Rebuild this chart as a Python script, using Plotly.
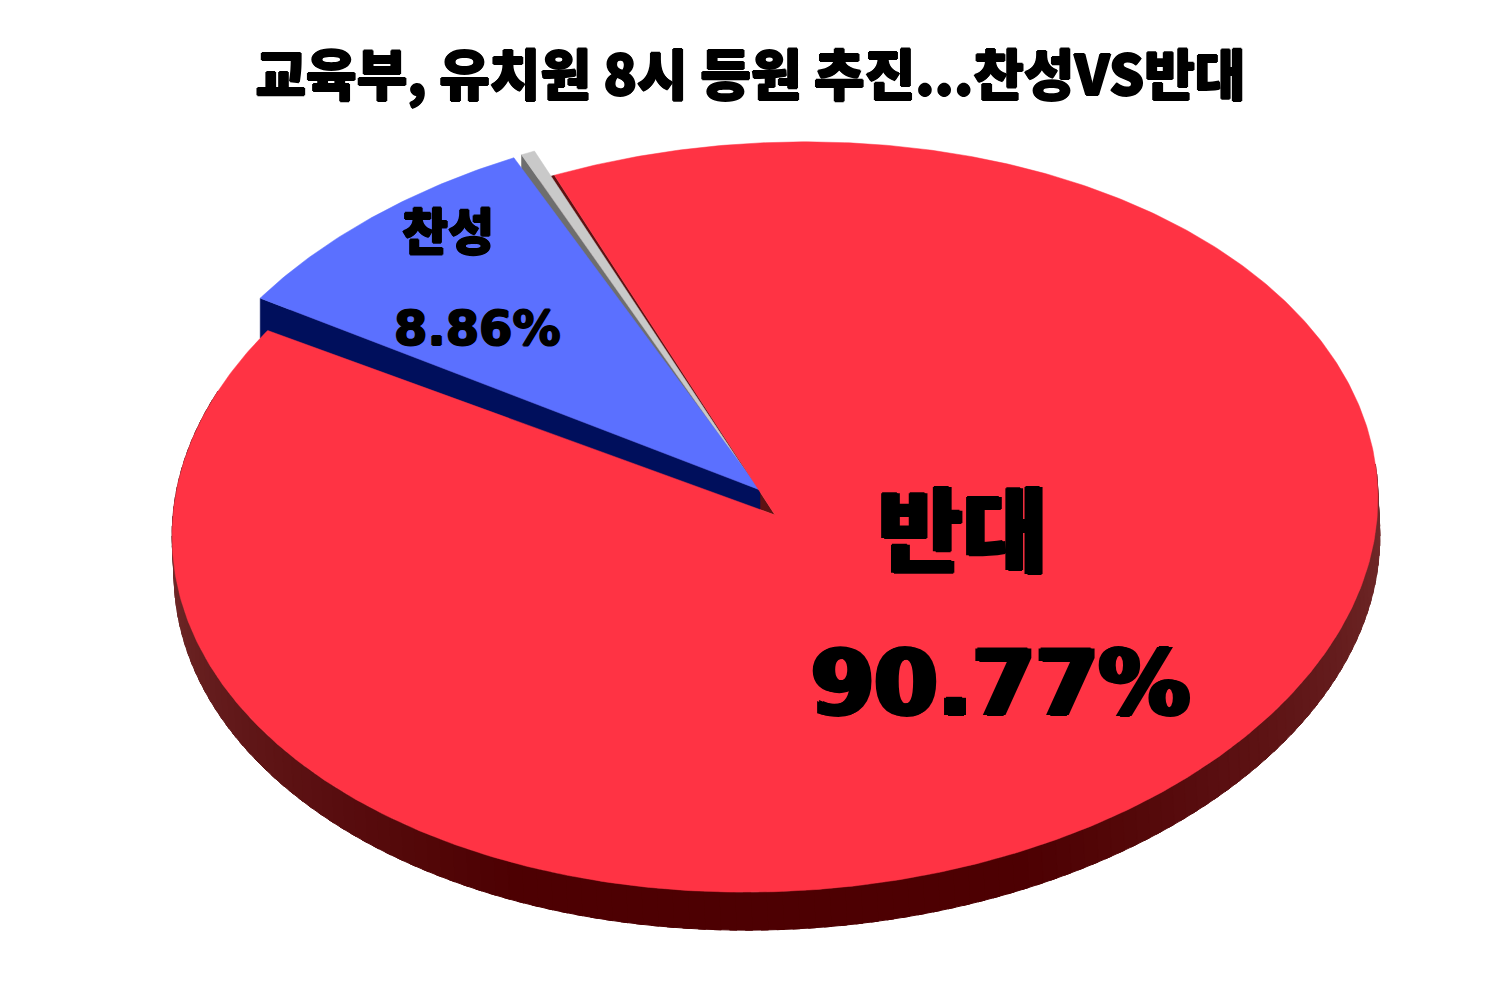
import numpy as np
import plotly.graph_objects as go

labels = ['찬성', '기타', '반대']
values = [8.86, 0.37, 90.77]
value_text = ['8.86%', '', '90.77%']
face_colors = ['#5B70FF', '#C9C9C9', '#FF3344']
wall_colors = ['#000F5C', '#6E6E6E', '#5E1212']
title_text = '교육부, 유치원 8시 등원 추진...찬성VS반대'

# pie geometry in page pixels
cx, cy = 775, 517
apex_lift = 2
rx, ry = 603, 375
tilt = np.radians(1.3)
depth_x, depth_y = 2, 38
start_angle = 303.2
# the original is drawn in perspective, so the slices do not meet exactly on the ellipse
gaps = [1.0, 0.3, -1.3]
offsets = [(-15, -25), (-17, -25), (0, 0)]
depths = [40, 30, 38]

WALL_SIDE = np.array([112, 42, 42])
WALL_DARK = np.array([77, 0, 2])

HEAVY = '1px 0 0 #000,-1px 0 0 #000,0 1px 0 #000,0 -1px 0 #000'
WIDE = '2px 0 0 #000,-2px 0 0 #000,1px 1px 0 #000,-1px -1px 0 #000'
WIDER = '3px 0 0 #000,-3px 0 0 #000,1px 1px 0 #000,-1px -1px 0 #000'


def ellipse_point(theta, ox=0, oy=0):
    t = np.radians(theta)
    px = rx * np.sin(t)
    py = ry * np.cos(t)
    x = cx + px * np.cos(tilt) + py * np.sin(tilt)
    y = cy - py * np.cos(tilt) + px * -np.sin(tilt)
    return x + ox, y + oy


def wedge(a0, a1, ox=0, oy=0):
    angles = np.linspace(a0, a1, max(3, int(abs(a1 - a0) * 2)))
    xs, ys = ellipse_point(angles, ox, oy)
    apex_x, apex_y = cx + ox, cy - apex_lift + oy
    return [apex_x, *xs, apex_x], [apex_y, *ys, apex_y]


def add_poly(fig, xs, ys, color, name=None):
    fig.add_trace(go.Scatter(
        x=xs, y=ys, mode='lines', fill='toself', fillcolor=color,
        line=dict(color=color, width=0.5),
        hoverinfo='text' if name else 'skip', text=name, showlegend=False
    ))


# slice angles, clockwise from the top
spans = [v / sum(values) * 360 for v in values]
starts, ends = [], []
pos = start_angle
for span, gap in zip(spans, gaps):
    starts.append(pos)
    ends.append(pos + span)
    pos += span + gap
ends[2] = start_angle + 360 + gaps[2]

fig = go.Figure()

# outer wall of the big slice, split in strips for the shading
edges = np.arange(84, 292, 1.5)
for a0, a1 in zip(edges[:-1], edges[1:]):
    mid = (a0 + a1) / 2
    t = min(1, max(0, (abs(mid - 180) - 25) / 65))
    shade = WALL_DARK + (WALL_SIDE - WALL_DARK) * t
    color = 'rgb({:.0f},{:.0f},{:.0f})'.format(*shade)
    xs, ys = ellipse_point(np.linspace(a0, a1 + 0.7, 4))
    fig.add_trace(go.Scatter(
        x=[*xs, *(xs[::-1] + depth_x), xs[0]], y=[*ys, *(ys[::-1] + depth_y), ys[0]],
        mode='lines', fill='toself', fillcolor=color, line=dict(color=color, width=1),
        hoverinfo='skip', showlegend=False
    ))

# hollow left by the pulled out slices
xs, ys = wedge(ends[2] - 360, starts[2])
add_poly(fig, xs, ys, wall_colors[2])

# pulled out slices, the thin one goes first so the blue one overlaps it
for i in [1, 0]:
    ox, oy = offsets[i]
    xs, ys = wedge(starts[i], ends[i], ox, oy)
    ax, ay = xs[0], ys[0]
    bx, by = xs[1], ys[1]
    d = depths[i]
    add_poly(fig, [ax, bx, bx, ax, ax], [ay, by, by + d, ay + d * 0.5, ay], wall_colors[i])
    add_poly(fig, xs, ys, face_colors[i], labels[i])

xs, ys = wedge(starts[2], ends[2])
add_poly(fig, xs, ys, face_colors[2], labels[2])

annotations = [
    dict(x=448, y=228, text=labels[0], font=dict(size=50, family='Noto Sans CJK KR', weight=900, shadow=HEAVY)),
    dict(x=477, y=328, text=value_text[0], font=dict(size=48, family='DejaVu Sans', weight=700, shadow=HEAVY)),
    dict(x=962, y=524, text=labels[2], font=dict(size=92, family='Noto Sans CJK KR', weight=900, shadow=WIDE)),
    dict(x=1000, y=683, text=value_text[2], font=dict(size=91, family='DejaVu Sans', weight=700, shadow=WIDER)),
]
for a in annotations:
    a.update(xref='x', yref='y', showarrow=False, xanchor='center', yanchor='middle')
    a['font']['color'] = '#000000'

fig.update_layout(
    width=1500, height=1000,
    margin=dict(l=0, r=0, t=0, b=0),
    paper_bgcolor='white', plot_bgcolor='white',
    showlegend=False,
    title=dict(text=title_text, x=0.495, y=0.932, xanchor='center', yanchor='middle',
               xref='paper', yref='container',
               font=dict(size=55, family='Noto Sans CJK KR', weight=900, color='#000000', shadow=HEAVY)),
    # the page sits 8px in from the window corner, so the ranges start at 8
    xaxis=dict(range=[8, 1508], visible=False, fixedrange=True),
    yaxis=dict(range=[1008, 8], visible=False, fixedrange=True),
    annotations=annotations,
)

fig.write_html("out.html")
